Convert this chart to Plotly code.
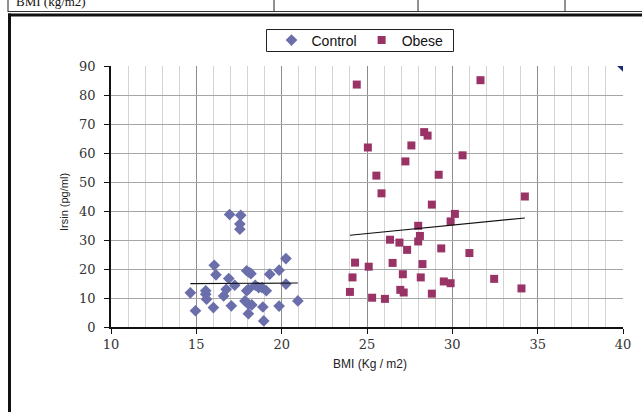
import numpy as np
import plotly.graph_objects as go

# BMI (kg/m2) and irisin (pg/ml) for each group
control_bmi = [14.65, 14.95, 15.55, 15.55, 15.6, 16.0, 16.05, 16.15, 16.6, 16.75,
               16.9, 16.95, 17.05, 17.25, 17.55, 17.55, 17.6, 17.85, 17.95, 17.95,
               18.05, 18.05, 18.1, 18.05, 18.2, 18.25, 18.45, 18.65, 18.85, 18.9,
               18.95, 19.1, 19.3, 19.85, 19.85, 20.25, 20.25, 20.95]
control_irisin = [11.8, 5.6, 12.5, 11.3, 9.6, 6.7, 21.3, 18.0, 10.7, 13.0,
                  16.7, 38.8, 7.3, 14.4, 35.5, 33.7, 38.5, 9.0, 19.4, 12.5,
                  7.9, 13.0, 18.8, 4.6, 18.4, 7.6, 14.4, 13.6, 13.6, 6.9,
                  2.1, 12.5, 18.2, 19.6, 7.2, 23.6, 14.8, 9.0]

obese_bmi = [24.4, 31.65, 28.35, 28.55, 25.05, 27.6, 27.25, 30.6, 25.55, 29.2,
             25.85, 28.8, 30.15, 29.9, 28.0, 28.1, 28.0, 26.35, 26.9, 27.35,
             29.35, 31.0, 24.3, 25.1, 26.5, 28.25, 24.15, 27.1, 28.15, 29.5,
             29.9, 32.45, 24.0, 26.95, 27.15, 28.8, 25.3, 26.05, 34.25, 34.05]
obese_irisin = [83.6, 85.1, 67.2, 66.0, 61.9, 62.6, 57.1, 59.2, 52.2, 52.5,
                46.1, 42.2, 39.0, 36.4, 34.9, 31.4, 29.5, 30.1, 29.1, 26.6,
                27.1, 25.5, 22.2, 20.8, 22.1, 21.7, 17.1, 18.2, 17.1, 15.7,
                15.1, 16.6, 12.1, 12.8, 11.9, 11.5, 10.1, 9.7, 45.0, 13.3]

# stray control marker sitting on the top-right corner of the plot
corner_bmi = [40.0]
corner_irisin = [90.0]

x_ticks = [10, 15, 20, 25, 30, 35, 40]
y_ticks = [0, 10, 20, 30, 40, 50, 60, 70, 80, 90]

CONTROL_COLOR = "#6a6fab"
OBESE_COLOR = "#993366"

fig = go.Figure()

fig.add_trace(go.Scatter(
    x=control_bmi, y=control_irisin, mode="markers", name="Control",
    marker=dict(symbol="diamond", size=9, color=CONTROL_COLOR),
))
fig.add_trace(go.Scatter(
    x=obese_bmi, y=obese_irisin, mode="markers", name="Obese",
    marker=dict(symbol="square", size=8, color=OBESE_COLOR),
))
fig.add_trace(go.Scatter(
    x=corner_bmi, y=corner_irisin, mode="markers", showlegend=False,
    marker=dict(symbol="diamond", size=9, color="#1c2a78"),
))

# least-squares trend line for each group, spanning the group's BMI range
for xs, ys in ((control_bmi, control_irisin), (obese_bmi, obese_irisin)):
    slope, intercept = np.polyfit(xs, ys, 1)
    xr = np.array([min(xs), max(xs)])
    fig.add_trace(go.Scatter(
        x=xr, y=slope * xr + intercept, mode="lines", showlegend=False,
        line=dict(color="#111111", width=1.2), hoverinfo="skip",
    ))

# plot-area geometry in pixels (used to place the frame around the chart)
L, R, T, B = 111, 19, 66, 85
W, H = 642 - L - R, 412 - T - B


def px_x(p):
    return (p - L) / W


def px_y(p):
    return (412 - B - p) / H


def hline(x0, x1, y, color, width):
    return dict(type="line", xref="paper", yref="paper",
                x0=px_x(x0), x1=px_x(x1), y0=px_y(y), y1=px_y(y),
                line=dict(color=color, width=width))


def vline(x, y0, y1, color, width):
    return dict(type="line", xref="paper", yref="paper",
                x0=px_x(x), x1=px_x(x), y0=px_y(y0), y1=px_y(y1),
                line=dict(color=color, width=width))


shapes = []
# table row at the very top of the page
for xpix in (274, 418, 565):
    shapes.append(vline(xpix, 0, 12, "#222222", 1))
shapes.append(vline(8, 0, 12, "#222222", 1))
shapes.append(hline(8, 642, 11.5, "#333333", 1))
# heavy frame around the chart
shapes.append(hline(8, 642, 15, "#111111", 3))
shapes.append(vline(9.5, 13.5, 412, "#111111", 3))
# legend box
shapes.append(dict(type="rect", xref="paper", yref="paper",
                   x0=px_x(266.5), x1=px_x(453.5), y0=px_y(29.5), y1=px_y(51.5),
                   line=dict(color="#222222", width=1), fillcolor="white",
                   layer="below"))

annotations = [
    dict(text="BMI (kg/m2)", xref="paper", yref="paper",
         x=px_x(14), y=px_y(2), xanchor="left", yanchor="middle", showarrow=False,
         font=dict(family="Liberation Serif", size=13, color="#111111")),
    dict(text="BMI (Kg / m2)", xref="paper", yref="paper",
         x=px_x(370), y=px_y(364), xanchor="center", yanchor="middle", showarrow=False,
         font=dict(family="Liberation Sans", size=12, color="#222222")),
    dict(text="Irsin (pg/ml)", xref="paper", yref="paper",
         x=px_x(64), y=px_y(202), xanchor="center", yanchor="middle", showarrow=False,
         textangle=-90,
         font=dict(family="Liberation Sans", size=11, color="#222222")),
]

fig.update_layout(
    width=642, height=412,
    margin=dict(l=L, r=R, t=T, b=B),
    paper_bgcolor="white", plot_bgcolor="white",
    showlegend=True,
    legend=dict(
        orientation="h", x=px_x(360), y=px_y(40.5), xanchor="center", yanchor="middle",
        borderwidth=0, bgcolor="rgba(0,0,0,0)",
        font=dict(family="Liberation Sans", size=14, color="#111111"),
        itemwidth=30, tracegroupgap=0,
    ),
    shapes=shapes,
    annotations=annotations,
)

fig.update_xaxes(
    range=[10, 40], tickvals=x_ticks, ticktext=[str(v) for v in x_ticks],
    showline=True, linecolor="#111111", linewidth=1.5,
    ticks="outside", ticklen=5, tickcolor="#111111",
    tickfont=dict(family="DejaVu Serif", size=13, color="#333333"),
    showgrid=True, gridcolor="#8c8c8c", gridwidth=1,
    minor=dict(dtick=1, showgrid=True, gridcolor="#d4d4d4", gridwidth=1),
    zeroline=False, fixedrange=True,
)
fig.update_yaxes(
    range=[0, 90], tickvals=y_ticks, ticktext=[str(v) for v in y_ticks],
    showline=True, linecolor="#111111", linewidth=1.5,
    ticks="outside", ticklen=5, tickcolor="#111111", ticklabelstandoff=6,
    tickfont=dict(family="DejaVu Serif", size=13, color="#333333"),
    showgrid=True, gridcolor="#a6a6a6", gridwidth=1,
    zeroline=False, fixedrange=True,
)

fig.write_html("out.html")
